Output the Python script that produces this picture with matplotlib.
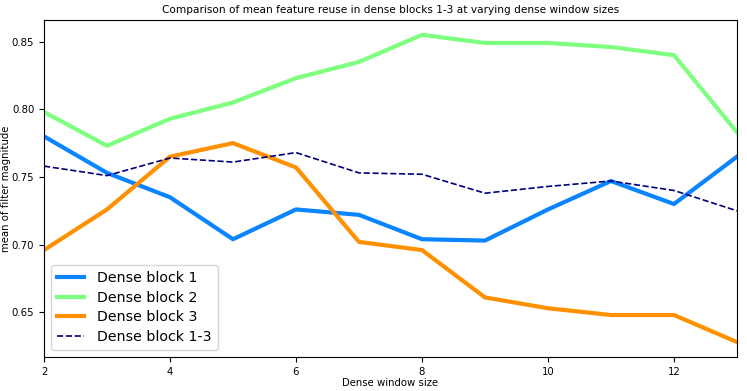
import matplotlib
matplotlib.use("Agg")
import matplotlib.pyplot as plt

window_sizes = [2, 3, 4, 5, 6, 7, 8, 9, 10, 11, 12, 13]
block1 = [0.780, 0.753, 0.735, 0.704, 0.726, 0.722, 0.704, 0.703, 0.726, 0.747, 0.730, 0.765]
block2 = [0.798, 0.773, 0.793, 0.805, 0.823, 0.835, 0.855, 0.849, 0.849, 0.846, 0.840, 0.783]
block3 = [0.696, 0.726, 0.765, 0.775, 0.757, 0.702, 0.696, 0.661, 0.653, 0.648, 0.648, 0.628]
block_all = [0.758, 0.751, 0.764, 0.761, 0.768, 0.753, 0.752, 0.738, 0.743, 0.747, 0.740, 0.725]

labels = ["Dense block 1", "Dense block 2", "Dense block 3", "Dense block 1-3"]

fig = plt.figure(figsize=(7.47, 3.91), dpi=100)
ax = fig.add_axes([0.0589, 0.087, 0.9277, 0.862])

ax.plot(window_sizes, block1, color="#0a84ff", lw=3, label=labels[0])
ax.plot(window_sizes, block2, color="#7fff7f", lw=3, label=labels[1])
ax.plot(window_sizes, block3, color="#ff9100", lw=3, label=labels[2])
ax.plot(window_sizes, block_all, color="#000080", lw=1.2, ls="--", label=labels[3])

ax.set_xlim(2, 13)
ax.set_ylim(0.617, 0.866)
ax.set_xticks([2, 4, 6, 8, 10, 12])
ax.set_yticks([0.65, 0.70, 0.75, 0.80, 0.85])
ax.tick_params(labelsize=7.3)
ax.set_xlabel("Dense window size", fontsize=7.3, labelpad=1)
ax.set_ylabel("mean of filter magnitude", fontsize=7.3, labelpad=2)
ax.yaxis.set_label_coords(-0.047, 0.5)
ax.set_title("Comparison of mean feature reuse in dense blocks 1-3 at varying dense window sizes", fontsize=7.6, pad=5)
ax.legend(loc="lower left", fontsize=10.2, handlelength=1.9, borderpad=0.45,
          labelspacing=0.38, handletextpad=0.9, borderaxespad=0.5)

fig.savefig("out.png", dpi=100)
